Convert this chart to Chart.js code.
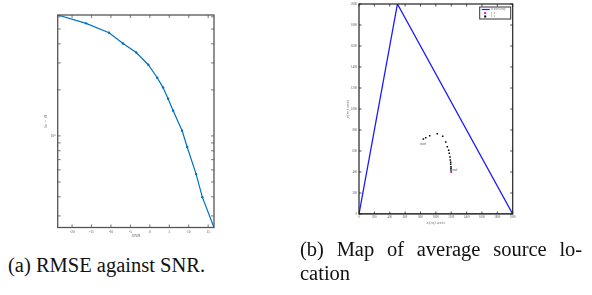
<!DOCTYPE html>
<html><head><meta charset="utf-8">
<script src="https://cdn.jsdelivr.net/npm/chart.js@4.4.0/dist/chart.umd.min.js"></script>
<style>
html,body{margin:0;padding:0;background:#fff;width:592px;height:295px;overflow:hidden}
#c1{position:absolute;left:0;top:0}
#c2{position:absolute;left:296px;top:0}
.cap{position:absolute;font-family:"Liberation Serif","DejaVu Serif",serif;font-size:20.5px;color:#111;white-space:nowrap;line-height:23px}
</style></head>
<body>
<canvas id="c1" width="296" height="250"></canvas>
<canvas id="c2" width="296" height="250"></canvas>
<div class="cap" style="left:8px;top:254px">(a) RMSE against SNR.</div>
<div class="cap" style="left:300px;top:238px;word-spacing:7.6px">(b) Map of average source lo-</div>
<div class="cap" style="left:300px;top:262px">cation</div>
<script>
// ---- data: chart (a)
const snrValues = [-23.7, -16.4, -10.5, -6.9, -3.5, -0.4, 1.9, 3.4, 4.7, 6.0, 8.3, 9.6, 11.9, 13.5, 16.5];
const rmseValues = [6.17, 5.44, 4.72, 4.02, 3.51, 2.92, 2.40, 2.07, 1.75, 1.46, 1.08, 0.847, 0.563, 0.398, 0.252];
const snrTicks = [-20, -15, -10, -5, 0, 5, 10, 15];
const rmseTicks = [0.3, 0.4, 0.5, 0.6, 0.7, 0.8, 0.9, 1, 2, 3, 4, 5, 6];
// ---- data: chart (b)
const arrayX = [0, 500, 2000, 0];
const arrayY = [0, 2000, 0, 0];
const estX = [837, 868, 920, 1019, 1089, 1128, 1149, 1167, 1175, 1184, 1188, 1193, 1193, 1197, 1197, 1197];
const estY = [714, 727, 746, 765, 740, 686, 641, 607, 578, 543, 514, 492, 473, 450, 435, 419];
const sourceX = [1200];
const sourceY = [400];
const mapTicks = [0, 200, 400, 600, 800, 1000, 1200, 1400, 1600, 1800, 2000];
const legendLabels = ["Sensor array", "x_s", "x\u0302_s"];
const pathLabels = ["start", "end"];

const SERIF = "'Liberation Serif', 'DejaVu Serif', serif";
Chart.defaults.animation = false;
Chart.defaults.font.family = SERIF;

const boxTicks = {
  id: 'boxTicks',
  afterDatasetsDraw(chart, args, opts) {
    const {ctx, chartArea: a} = chart;
    const xs = chart.scales.x, ys = chart.scales.y;
    ctx.save();
    ctx.strokeStyle = opts.color; ctx.lineWidth = opts.width;
    ctx.strokeRect(a.left, a.top, a.right - a.left, a.bottom - a.top);
    ctx.lineWidth = 0.8;
    const L = opts.len;
    xs.ticks.forEach(t => {
      const p = xs.getPixelForValue(t.value);
      ctx.beginPath();
      ctx.moveTo(p, a.bottom); ctx.lineTo(p, a.bottom - L);
      ctx.moveTo(p, a.top); ctx.lineTo(p, a.top + L);
      ctx.stroke();
    });
    ys.ticks.forEach(t => {
      const p = ys.getPixelForValue(t.value);
      ctx.beginPath();
      ctx.moveTo(a.left, p); ctx.lineTo(a.left + L, p);
      ctx.moveTo(a.right, p); ctx.lineTo(a.right - L, p);
      ctx.stroke();
    });
    ctx.restore();
  }
};

const noGrid = {display: false, drawTicks: false, tickLength: 0};

// ---------- chart (a)
new Chart(document.getElementById('c1'), {
  type: 'line',
  data: {
    datasets: [{
      data: snrValues.map((v, i) => ({x: v, y: rmseValues[i]})),
      borderColor: '#0072BD', backgroundColor: '#0072BD',
      borderWidth: 1.2, pointRadius: 1.2, pointBorderWidth: 0, tension: 0
    }]
  },
  options: {
    responsive: false,
    layout: {padding: {left: 0, right: 82, top: 15, bottom: 0}},
    plugins: {legend: {display: false}, tooltip: {enabled: false},
      boxTicks: {color: '#555', width: 1.3, len: 3}},
    scales: {
      x: {type: 'linear', min: -23.7, max: 16.5,
        afterBuildTicks: s => { s.ticks = snrTicks.map(v => ({value: v})); },
        afterFit: s => { s.height = 22.5; },
        grid: noGrid, border: {display: false},
        ticks: {font: {size: 3.5}, color: '#555', padding: 2, autoSkip: false, maxRotation: 0},
        title: {display: true, text: 'SNR', font: {size: 5, style: 'italic'}, color: '#666', padding: {top: 0, bottom: 11.5}}
      },
      y: {type: 'logarithmic', min: 0.252, max: 6.17,
        afterBuildTicks: s => { s.ticks = rmseTicks.map(v => ({value: v, major: v === 1})); },
        afterFit: s => { s.width = 57.7; },
        grid: noGrid, border: {display: false},
        ticks: {font: {size: 3.5}, color: '#555', padding: 2, autoSkip: false,
          callback: v => v === 1 ? '10\u2070' : ''},
        title: {display: true, text: '\u2016s \u2212 \u015d\u2016', font: {size: 5, style: 'italic'}, color: '#666', padding: {top: 43, bottom: 0}}
      }
    }
  },
  plugins: [boxTicks]
});

// ---------- chart (b)
const mapLegend = {
  id: 'mapLegend',
  afterDatasetsDraw(chart) {
    const {ctx, chartArea: a} = chart;
    ctx.save();
    const bx = a.right - 33, by = a.top + 3, bw = 31, bh = 12;
    ctx.fillStyle = '#fff'; ctx.fillRect(bx, by, bw, bh);
    ctx.strokeStyle = '#333'; ctx.lineWidth = 1; ctx.strokeRect(bx, by, bw, bh);
    const ds = chart.data.datasets;
    ctx.font = "3px " + SERIF; ctx.fillStyle = '#777'; ctx.textBaseline = 'middle';
    ctx.strokeStyle = ds[0].borderColor; ctx.lineWidth = 1.2;
    ctx.beginPath(); ctx.moveTo(bx + 2, by + 2.5); ctx.lineTo(bx + 10, by + 2.5); ctx.stroke();
    ctx.fillText(legendLabels[0], bx + 11, by + 2.5);
    ctx.fillStyle = ds[1].backgroundColor; ctx.fillRect(bx + 4.5, by + 5, 2, 2);
    ctx.fillStyle = '#777'; ctx.fillText(legendLabels[1], bx + 11, by + 6);
    ctx.fillStyle = ds[2].backgroundColor; ctx.fillRect(bx + 4.5, by + 8.5, 2, 2);
    ctx.fillStyle = '#777'; ctx.fillText(legendLabels[2], bx + 11, by + 9.5);
    const xs = chart.scales.x, ys = chart.scales.y;
    ctx.font = "italic 3.5px " + SERIF; ctx.fillStyle = '#555';
    ctx.textAlign = 'right';
    ctx.fillText(pathLabels[0], xs.getPixelForValue(estX[0]) + 3, ys.getPixelForValue(estY[0]) + 5);
    ctx.textAlign = 'left';
    ctx.fillText(pathLabels[1], xs.getPixelForValue(sourceX[0]) + 1, ys.getPixelForValue(sourceY[0]) - 1.5);
    ctx.restore();
  }
};

new Chart(document.getElementById('c2'), {
  type: 'scatter',
  data: {
    datasets: [
      {data: arrayX.map((v, i) => ({x: v, y: arrayY[i]})), showLine: true,
        borderColor: '#1a1aff', backgroundColor: '#1a1aff', borderWidth: 1.3, pointRadius: 0, order: 3},
      {data: sourceX.map((v, i) => ({x: v, y: sourceY[i]})), pointStyle: 'rect',
        backgroundColor: '#ff00ff', borderColor: '#ff00ff', pointRadius: 1.3, borderWidth: 0, order: 2},
      {data: estX.map((v, i) => ({x: v, y: estY[i]})), pointStyle: 'rect',
        backgroundColor: '#000', borderColor: '#000', pointRadius: 1.1, borderWidth: 0, order: 1}
    ]
  },
  options: {
    responsive: false,
    layout: {padding: {left: 0, right: 79.3, top: 4, bottom: 0}},
    plugins: {legend: {display: false}, tooltip: {enabled: false},
      boxTicks: {color: '#222', width: 1.2, len: 2.5}},
    scales: {
      x: {type: 'linear', min: 0, max: 2000,
        afterBuildTicks: s => { s.ticks = mapTicks.map(v => ({value: v})); },
        afterFit: s => { s.height = 36; },
        grid: noGrid, border: {display: false},
        ticks: {font: {size: 3}, color: '#555', padding: 1.5, autoSkip: false, maxRotation: 0,
          callback: v => String(v)},
        title: {display: true, text: 'x(m) axis', font: {size: 5, style: 'italic'}, color: '#777', padding: {top: 0, bottom: 24}}
      },
      y: {type: 'linear', min: 0, max: 2000,
        afterBuildTicks: s => { s.ticks = mapTicks.map(v => ({value: v})); },
        afterFit: s => { s.width = 63; },
        grid: noGrid, border: {display: false},
        ticks: {font: {size: 3}, color: '#555', padding: 2, autoSkip: false, callback: v => String(v)},
        title: {display: true, text: 'y(m) axis', font: {size: 5, style: 'italic'}, color: '#777', padding: {top: 49, bottom: 0}}
      }
    }
  },
  plugins: [boxTicks, mapLegend]
});
</script>
</body></html>
